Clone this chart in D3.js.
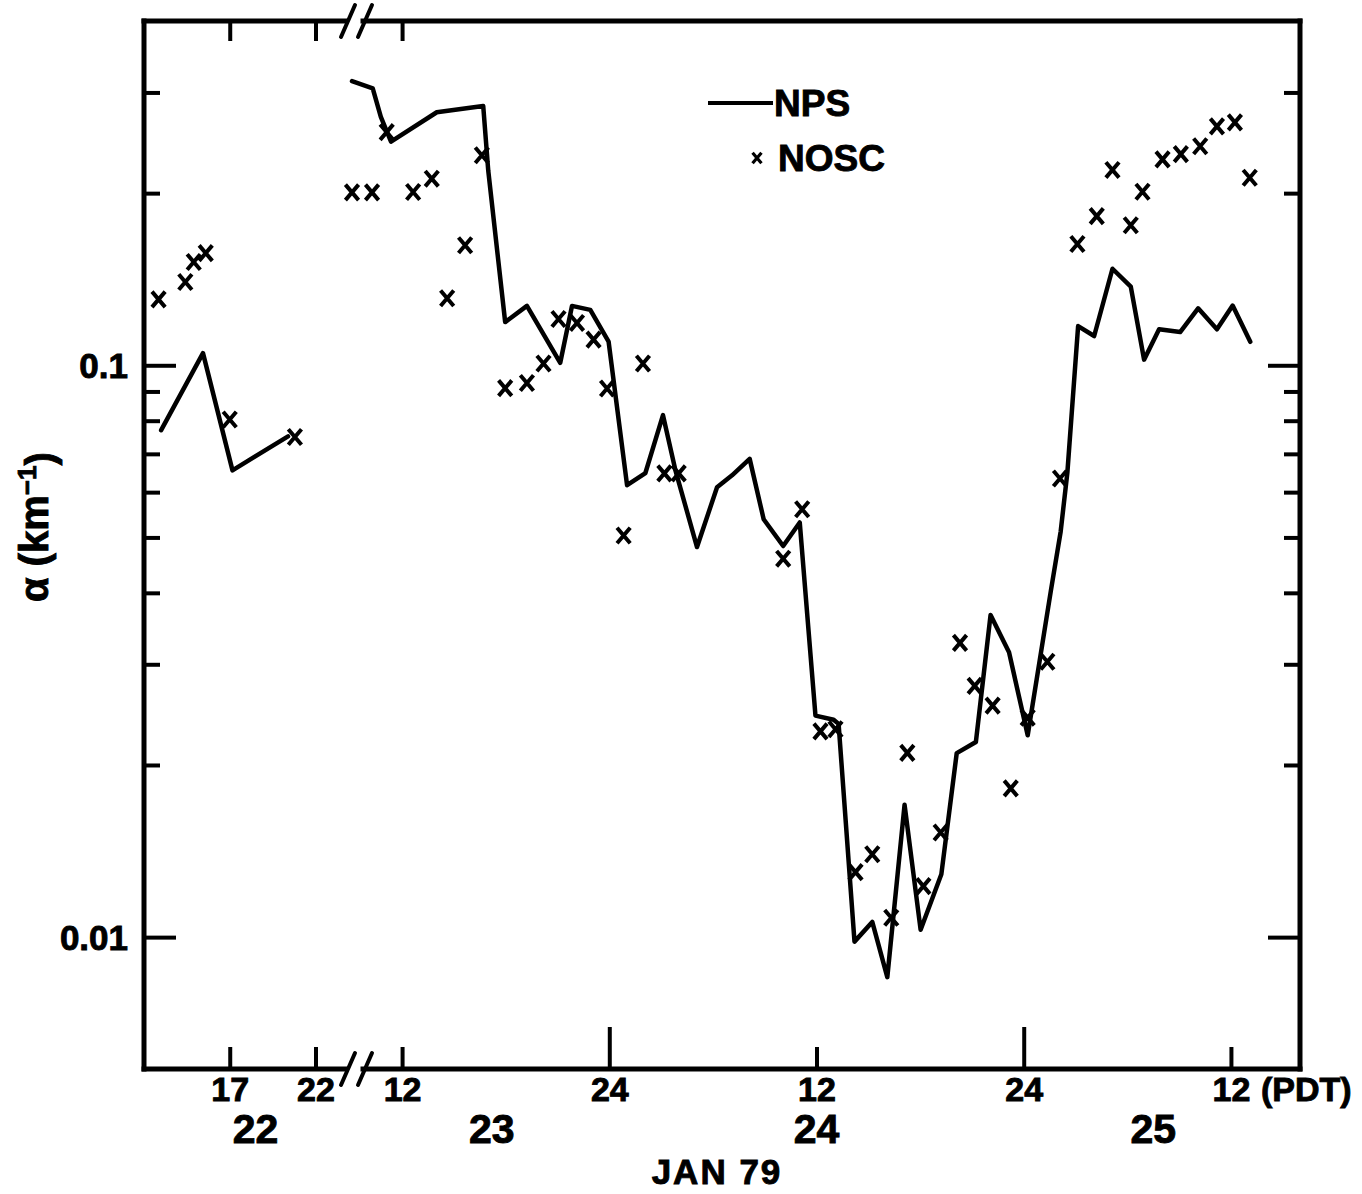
<!DOCTYPE html>
<html>
<head>
<meta charset="utf-8">
<script src="https://cdn.jsdelivr.net/npm/d3@7"></script>
<style>
  html, body { margin: 0; padding: 0; background: #fff; }
  svg { display: block; }
  text { font-family: "Liberation Sans", Arial, Helvetica, sans-serif; font-weight: bold; fill: #000;
         stroke: #000; stroke-width: 0.9px; }
</style>
</head>
<body>
<svg id="chart" width="1362" height="1194"></svg>
<script>
// Time is in hours counted from 00 PDT on 22 Jan 1979.
// Attenuation coefficient alpha in km^-1.

// NPS, evening of 22 Jan
const npsJan22Hours = [13.0, 15.44, 17.16, 20.4];
const npsJan22Alpha = [0.0770, 0.105, 0.0655, 0.0751];

// NPS, 23-25 Jan
const npsHours = [33.10, 34.30, 34.77, 35.36, 38.01, 39.94, 40.70, 40.99, 41.97, 43.23,
                  45.16, 45.84, 46.90, 47.96, 49.03, 50.09, 51.11, 51.83, 53.08, 54.24,
                  55.11, 56.13, 56.94, 58.07, 59.03, 59.94, 60.99, 61.28, 62.20, 63.23,
                  64.10, 65.10, 66.03, 67.23, 68.12, 69.23, 70.08, 71.15, 72.23, 73.57,
                  74.14, 74.53, 75.15, 76.08, 77.14, 78.20, 78.97, 79.84, 81.06, 82.10,
                  83.19, 84.10, 85.12];
const npsAlpha = [0.314, 0.305, 0.272, 0.246, 0.277, 0.282, 0.284, 0.219, 0.119, 0.127,
                  0.101, 0.127, 0.125, 0.110, 0.0617, 0.0648, 0.0818, 0.0655, 0.0481, 0.0612,
                  0.0642, 0.0686, 0.0538, 0.0483, 0.0531, 0.0244, 0.0240, 0.0236, 0.00982, 0.01063,
                  0.00851, 0.01704, 0.01030, 0.01288, 0.02098, 0.02194, 0.0366, 0.0315, 0.02254, 0.0403,
                  0.0512, 0.0650, 0.1171, 0.1125, 0.1475, 0.1373, 0.1023, 0.1156, 0.1143, 0.1258,
                  0.1156, 0.1272, 0.1099];

// NOSC, evening of 22 Jan
const noscJan22Hours = [12.85, 14.41, 14.9, 15.6, 17.0, 20.8];
const noscJan22Alpha = [0.1304, 0.1398, 0.1516, 0.1571, 0.0804, 0.0749];

// NOSC, 23-25 Jan
const noscHours = [33.10, 34.26, 35.11, 36.64, 37.72, 38.61, 39.65, 40.62, 41.97, 43.23,
                   44.19, 45.06, 46.13, 47.09, 47.87, 48.83, 49.95, 51.19, 52.02, 58.07,
                   59.17, 60.23, 61.10, 62.26, 63.23, 64.33, 65.26, 66.19, 67.19, 68.31,
                   69.16, 70.20, 71.25, 72.23, 73.37, 74.10, 75.11, 76.23, 77.14, 78.20,
                   78.88, 80.04, 81.10, 82.22, 83.19, 84.23, 85.09];
const noscAlpha = [0.2006, 0.2006, 0.2557, 0.2009, 0.2120, 0.1310, 0.1621, 0.2329, 0.0912, 0.0931,
                   0.1007, 0.1205, 0.1186, 0.1109, 0.0911, 0.0504, 0.1007, 0.0647, 0.0647, 0.0459,
                   0.0560, 0.0229, 0.0231, 0.01299, 0.01396, 0.01081, 0.0210, 0.01228, 0.01524, 0.0327,
                   0.0275, 0.0254, 0.0182, 0.0242, 0.0303, 0.0634, 0.1630, 0.1823, 0.2196, 0.1757,
                   0.2011, 0.2291, 0.2340, 0.2415, 0.2617, 0.2659, 0.2128];

// Axis ticks
const hourTicksShort = [17, 22, 36, 60, 84];
const hourTicksLong = [48, 72];
const hourTicksTop = [17, 22, 36];
const hourTickLabels = { 17: "17", 22: "22", 36: "12", 48: "24", 60: "12", 72: "24", 84: "12" };
const dayLabels = ["22", "23", "24", "25"];
const dayLabelHours = [18.5, 41.2, 60.0, 79.5];
const alphaMajorTicks = [0.1, 0.01];
const alphaMajorLabels = ["0.1", "0.01"];
const alphaMinorTicks = [0.3, 0.2, 0.09, 0.08, 0.07, 0.06, 0.05, 0.04, 0.03, 0.02];

// Gap in the time axis (22 Jan 24h -> 23 Jan 09h is skipped)
const breakFrom = 24.13, breakTo = 33.1;

const zip = (hs, vs) => hs.map((h, i) => ({ h, v: vs[i] }));

const svg = d3.select("#chart");
const L = 144, R = 1300, T = 21, B = 1069;

const bx = 352;
const x = d3.scaleLinear()
  .domain([12, breakFrom, breakTo, 88])
  .range([L, bx, bx, R]);
const y = d3.scaleLog()
  .domain([0.4, 0.00588])
  .range([T, B]);

const tickStroke = 4;

function styleAxis(g) {
  g.select(".domain").remove();
  g.selectAll(".tick line").attr("stroke", "#000").attr("stroke-width", tickStroke);
}

// Left axis: minor and major ticks pointing inwards
svg.append("g").attr("transform", `translate(${L},0)`)
  .call(d3.axisLeft(y).tickValues(alphaMinorTicks).tickSizeInner(-16).tickSizeOuter(0).tickFormat(""))
  .call(styleAxis);
svg.append("g").attr("transform", `translate(${L},0)`)
  .call(d3.axisLeft(y).tickValues(alphaMajorTicks).tickSizeInner(-32).tickSizeOuter(0).tickPadding(16)
    .tickFormat((d, i) => alphaMajorLabels[i]))
  .call(styleAxis)
  .call(g => g.selectAll("text").style("font-size", "35px").attr("dy", "0.36em"));

// Right axis mirrors the left one
svg.append("g").attr("transform", `translate(${R},0)`)
  .call(d3.axisRight(y).tickValues(alphaMinorTicks).tickSizeInner(-16).tickSizeOuter(0).tickFormat(""))
  .call(styleAxis);
svg.append("g").attr("transform", `translate(${R},0)`)
  .call(d3.axisRight(y).tickValues(alphaMajorTicks).tickSizeInner(-32).tickSizeOuter(0).tickFormat(""))
  .call(styleAxis);

// Bottom axis: hour labels, longer ticks at midnight
svg.append("g").attr("transform", `translate(0,${B})`)
  .call(d3.axisBottom(x).tickValues(hourTicksShort).tickSizeInner(-22).tickSizeOuter(0).tickPadding(8)
    .tickFormat(d => hourTickLabels[d]))
  .call(styleAxis)
  .call(g => g.selectAll("text").style("font-size", "34px"));
svg.append("g").attr("transform", `translate(0,${B})`)
  .call(d3.axisBottom(x).tickValues(hourTicksLong).tickSizeInner(-42).tickSizeOuter(0).tickPadding(8)
    .tickFormat(d => hourTickLabels[d]))
  .call(styleAxis)
  .call(g => g.selectAll("text").style("font-size", "34px"));

// Top axis
svg.append("g").attr("transform", `translate(0,${T})`)
  .call(d3.axisTop(x).tickValues(hourTicksTop).tickSizeInner(-20).tickSizeOuter(0).tickFormat(""))
  .call(styleAxis);

// Time zone note after the last hour label
svg.append("text")
  .attr("x", x(84) + 30).attr("y", B + 32)
  .style("font-size", "34px")
  .text("(PDT)");

// Day labels
svg.append("g").selectAll("text")
  .data(dayLabels)
  .join("text")
  .attr("x", (d, i) => x(dayLabelHours[i]))
  .attr("y", B + 74)
  .attr("text-anchor", "middle")
  .style("font-size", "41px")
  .text(d => d);

svg.append("text")
  .attr("x", 717).attr("y", 1184)
  .attr("text-anchor", "middle")
  .style("font-size", "35px")
  .style("letter-spacing", "2px")
  .text("JAN 79");

// Y axis title
const yTitle = svg.append("text")
  .attr("transform", `translate(48,${(y(0.1) + y(0.01)) / 2 - 124}) rotate(-90)`)
  .attr("text-anchor", "middle")
  .style("font-size", "40px");
yTitle.append("tspan").text("α (km");
yTitle.append("tspan").attr("dy", "-0.45em").style("font-size", "26px").text("−1");
yTitle.append("tspan").attr("dy", "0.45em").text(")");

// Frame with a broken time axis
const frame = svg.append("g").attr("stroke", "#000").attr("stroke-width", 5).attr("fill", "none")
  .attr("stroke-linecap", "square");
frame.append("line").attr("x1", L).attr("y1", T).attr("x2", L).attr("y2", B);
frame.append("line").attr("x1", R).attr("y1", T).attr("x2", R).attr("y2", B);
[T, B].forEach(yy => {
  frame.append("line").attr("x1", L).attr("y1", yy).attr("x2", bx - 6).attr("y2", yy);
  frame.append("line").attr("x1", bx + 11).attr("y1", yy).attr("x2", R).attr("y2", yy);
  [bx - 4, bx + 13].forEach(cx => {
    frame.append("line")
      .attr("stroke-width", 4).attr("stroke-linecap", "round")
      .attr("x1", cx - 7).attr("y1", yy + 16)
      .attr("x2", cx + 7).attr("y2", yy - 16);
  });
});

// NPS curve
const line = d3.line().x(d => x(d.h)).y(d => y(d.v));
const lines = svg.append("g").attr("fill", "none").attr("stroke", "#000")
  .attr("stroke-width", 4.5).attr("stroke-linejoin", "round").attr("stroke-linecap", "round");
lines.append("path").attr("d", line(zip(npsJan22Hours, npsJan22Alpha)));
lines.append("path").attr("d", line(zip(npsHours, npsAlpha)));

// NOSC crosses
const crossType = {
  draw(ctx, size) {
    const r = Math.sqrt(size) / 2;
    const w = r * 0.85;
    ctx.moveTo(-w, -r); ctx.lineTo(w, r);
    ctx.moveTo(-w, r); ctx.lineTo(w, -r);
  }
};
const cross = d3.symbol().type(crossType).size(240);
svg.append("g").attr("fill", "none").attr("stroke", "#000").attr("stroke-width", 4)
  .selectAll("path")
  .data(zip(noscJan22Hours, noscJan22Alpha).concat(zip(noscHours, noscAlpha)))
  .join("path")
  .attr("transform", d => `translate(${x(d.h)},${y(d.v)})`)
  .attr("d", cross);

// Legend
const legend = svg.append("g");
legend.append("line").attr("x1", 708).attr("x2", 773).attr("y1", 103).attr("y2", 103)
  .attr("stroke", "#000").attr("stroke-width", 4);
legend.append("text").attr("x", 774).attr("y", 116).style("font-size", "37px").text("NPS");
legend.append("path").attr("transform", "translate(757,158)")
  .attr("d", d3.symbol().type(crossType).size(110)())
  .attr("fill", "none").attr("stroke", "#000").attr("stroke-width", 3.2);
legend.append("text").attr("x", 778).attr("y", 171).style("font-size", "37px").text("NOSC");
</script>
</body>
</html>
